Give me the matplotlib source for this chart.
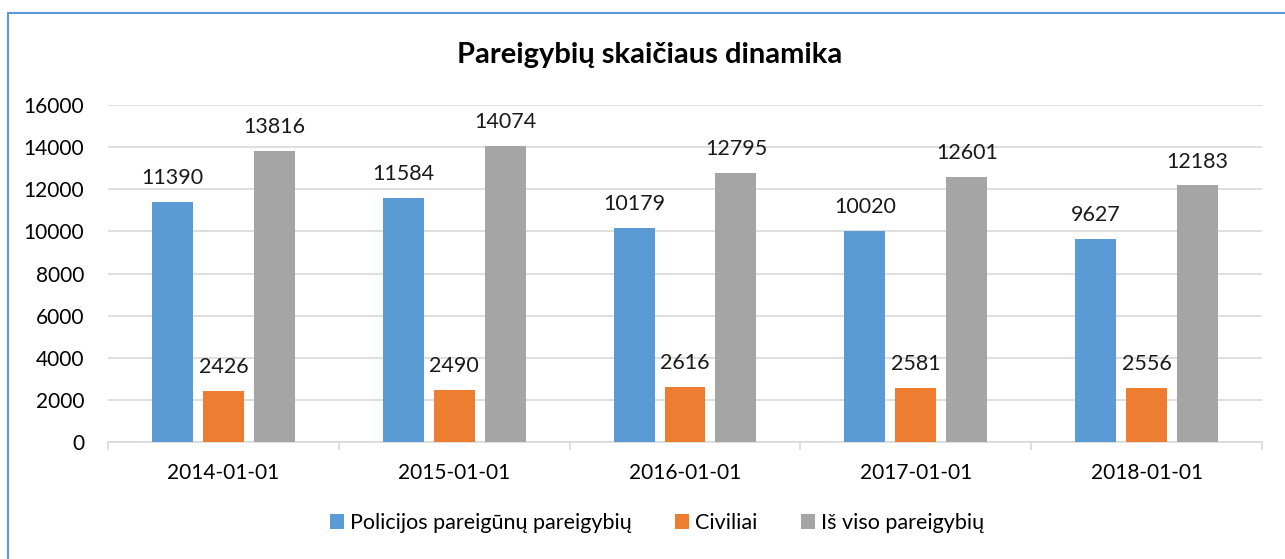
import matplotlib.pyplot as plt
import numpy as np
from matplotlib.patches import Rectangle

# data
dates = ['2014-01-01', '2015-01-01', '2016-01-01', '2017-01-01', '2018-01-01']
policija = [11390, 11584, 10179, 10020, 9627]
civiliai = [2426, 2490, 2616, 2581, 2556]
is_viso = [13816, 14074, 12795, 12601, 12183]
series_names = ['Policijos pareigūnų pareigybių', 'Civiliai', 'Iš viso pareigybių']
colors = ['#5B9BD5', '#ED7D31', '#A5A5A5']

plt.rcParams['font.family'] = ['Lato', 'DejaVu Sans']

fig = plt.figure(figsize=(12.85, 5.59), dpi=100)
ax = fig.add_axes([108 / 1285, 1 - 442 / 559, (1262 - 108) / 1285, (442 - 105) / 559])

# outer blue frame (right/bottom edges cut off like in the original)
fig.patches.append(Rectangle((8 / 1285, -0.1), 1.2, 1 - 13 / 559 + 0.1,
                             transform=fig.transFigure, fill=False,
                             edgecolor='#5B9BD5', linewidth=1.5))

x = np.arange(len(dates))
w = 41 / 231
step = 51 / 231
for i, (vals, name, c) in enumerate(zip([policija, civiliai, is_viso], series_names, colors)):
    bars = ax.bar(x + (i - 1) * step, vals, width=w, color=c, label=name, zorder=3)
    ax.bar_label(bars, labels=[str(v) for v in vals], padding=10, fontsize=15.5, color='#1a1a1a')

ax.set_xlim(-0.5, len(dates) - 0.5)
ax.set_ylim(0, 16000)
ax.set_yticks(range(0, 16001, 2000))
ax.yaxis.grid(True, color='#D9D9D9', linewidth=1.2, zorder=0)
ax.tick_params(axis='y', length=0, labelsize=15, pad=17)

# category labels centred, ticks at the boundaries
ax.set_xticks(np.arange(-0.5, len(dates), 1.0))
ax.set_xticklabels([])
ax.set_xticks(x, minor=True)
ax.set_xticklabels(dates, minor=True, fontsize=15)
ax.tick_params(axis='x', which='major', length=6, color='#D9D9D9', width=1.2)
ax.tick_params(axis='x', which='minor', length=0, pad=15)

for s in ['top', 'right', 'left']:
    ax.spines[s].set_visible(False)
ax.spines['bottom'].set_color('#D9D9D9')
ax.spines['bottom'].set_linewidth(1.2)

fig.text(650 / 1285, 1 - 55 / 559, 'Pareigybių skaičiaus dinamika', ha='center', va='center',
         fontsize=21, fontweight='bold')

fig.legend(loc='center', bbox_to_anchor=(657 / 1285, 1 - 523 / 559), ncol=3, frameon=False,
           fontsize=15.5, handlelength=0.65, handleheight=0.65, handletextpad=0.3, columnspacing=2.0)

fig.savefig('out.png', dpi=100)
